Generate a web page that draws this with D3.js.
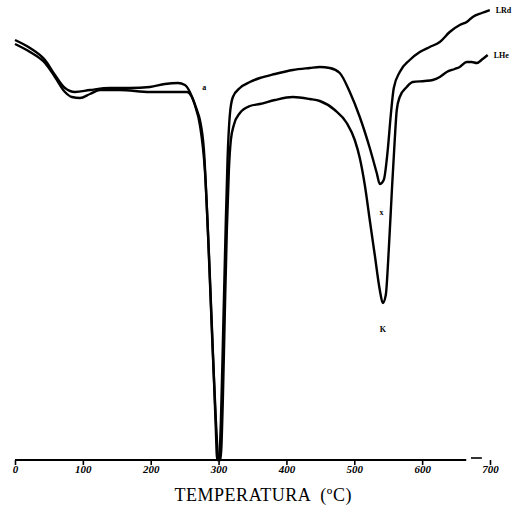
<!DOCTYPE html>
<html><head><meta charset="utf-8">
<script src="https://cdn.jsdelivr.net/npm/d3@7"></script>
<style>body{margin:0;background:#fff}svg{display:block}</style>
</head><body>
<script>
// Temperature (°C) and signal (arbitrary units) for each DTA curve
const tempLRd = [0,22.1,44.2,58.9,73.6,88.4,110.5,139.9,169.4,198.8,220.9,240.1,250.4,257.7,265.1,272.5,279.8,286.2,291.5,295.5,298.0,300.5,303.5,306.8,310.0,313.2,316.6,321.1,331.4,346.1,360.8,382.9,409.4,434.5,449.2,463.9,478.6,493.4,508.1,522.8,533.1,537.6,543.4,549.3,553.8,558.2,567.0,581.7,596.5,611.2,626.0,640.6,655.4,665.7,674.5,687.8,699.6];
const valLRd  = [420,412,400,385,372,368,370,372,372,373,376,377,375,368,355,335,290,200,110,40,0,0,40,130,220,300,345,363,372,378,382,386,390,392,393,392,387,368,343,312,287,276,280,310,345,372,388,400,408,413,418,428,435,438,443,447,450];
const tempLHe = [0,22.1,44.2,58.9,73.6,83.9,95.7,110.5,125.2,154.6,198.8,228.3,253.3,260.7,268.0,272.5,278.4,284.2,290.1,296.0,300.0,302.8,306.3,309.3,312.2,315.2,318.1,322.5,331.4,346.1,360.8,382.9,409.4,434.5,449.2,471.3,488.9,500.7,508.1,515.5,522.8,530.2,537.6,542.0,546.4,550.8,555.2,559.6,562.6,567.0,577.3,586.2,603.8,615.6,626.0,636.2,648.0,655.4,665.7,673.0,680.4,689.2,696.6];
const valLHe  = [416,408,397,383,368,363,362,366,370,370,368,368,368,363,350,340,310,230,130,40,0,0,60,150,230,290,320,335,347,354,356,360,363,361,359,350,337,320,302,275,240,205,170,157,165,210,267,320,350,363,373,378,379,380,383,388,391,393,398,398,397,401,405];
const tickTemps = [0,100,200,300,400,500,600,700];
const tickLabels = ["0","100","200","300","400","500","600","700"];
const seriesNames = ["LRd","LHe"];
const peakLabels = [{t:279,v:370,txt:"a"},{t:540,v:245,txt:"x"},{t:542,v:128,txt:"K"}];

const W=522,H=506;
const svg=d3.select("body").append("svg").attr("width",W).attr("height",H);
const x=d3.scaleLinear().domain([0,700]).range([15,490]);
const y=d3.scaleLinear().domain([0,460]).range([460,0]);

const series=[
  {name:seriesNames[0],pts:tempLRd.map((t,i)=>[t,valLRd[i]])},
  {name:seriesNames[1],pts:tempLHe.map((t,i)=>[t,valLHe[i]])}
];
const line=d3.line().x(d=>x(d[0])).y(d=>y(d[1])).curve(d3.curveMonotoneX);
svg.selectAll("path.s").data(series).join("path").attr("class","s")
  .attr("d",d=>line(d.pts)).attr("fill","none").attr("stroke","#000")
  .attr("stroke-width",2.4).attr("stroke-linejoin","round");

// axis
const ax=svg.append("g").attr("transform",`translate(0,${y(0)})`)
  .call(d3.axisBottom(x).tickValues(tickTemps).tickFormat((d,i)=>tickLabels[i]).tickSize(5).tickSizeOuter(0));
ax.select(".domain").remove();
ax.selectAll(".tick line").attr("stroke","#000").attr("stroke-width",1.6);
ax.selectAll(".tick text").attr("font-family","Liberation Serif").attr("font-weight","bold")
  .attr("font-style","italic").attr("font-size",11).attr("y",5).attr("dy","0.71em").attr("fill","#000");
ax.append("line").attr("x1",x(0)).attr("x2",x(665)).attr("y1",0).attr("y2",0).attr("stroke","#000").attr("stroke-width",2);
ax.append("line").attr("x1",x(672)).attr("x2",x(688)).attr("y1",-2).attr("y2",-2).attr("stroke","#000").attr("stroke-width",1.6);

// series labels at curve ends
series.forEach(s=>{
  const last=s.pts[s.pts.length-1];
  svg.append("text").attr("x",x(last[0])+6).attr("y",y(last[1])+3)
    .attr("font-family","Liberation Serif").attr("font-weight","bold").attr("font-size",8).text(s.name);
});
peakLabels.forEach(p=>{
  svg.append("text").attr("x",x(p.t)).attr("y",y(p.v)).attr("text-anchor","middle")
    .attr("font-family","Liberation Serif").attr("font-weight","bold").attr("font-size",8).text(p.txt);
});

svg.append("text").attr("x",263).attr("y",501).attr("text-anchor","middle")
  .attr("font-family","Liberation Serif").attr("font-size",18).attr("fill","#000")
  .attr("textLength",177).attr("lengthAdjust","spacing")
  .attr("xml:space","preserve").text("TEMPERATURA  (ºC)");
</script>
</body></html>
